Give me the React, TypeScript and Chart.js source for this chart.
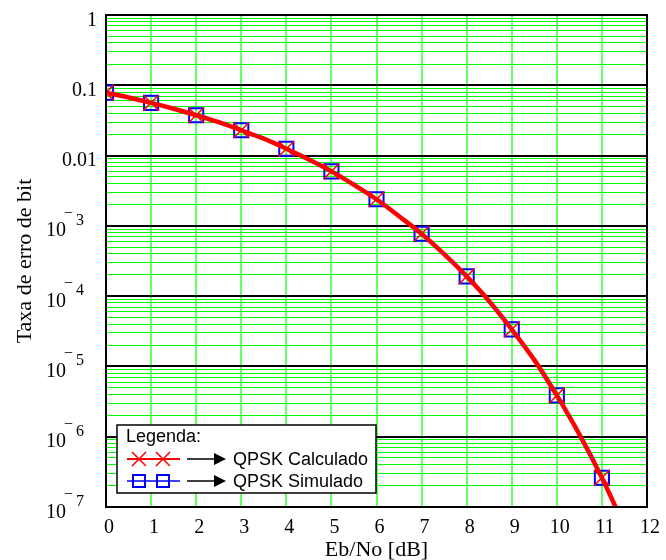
import { useEffect, useRef } from 'react';
import { Chart, registerables } from 'chart.js';

Chart.register(...registerables);

// ---- data ----
const EBNO_DB = [0, 1, 2, 3, 4, 5, 6, 7, 8, 9, 10, 11];
const BER_CALCULADO = [0.0786, 0.0563, 0.0375, 0.0229, 0.0125, 0.00596, 0.00239, 0.000773, 0.000191, 3.36e-5, 3.87e-6, 2.61e-7];
const BER_SIMULADO = [0.0786, 0.0563, 0.0375, 0.0229, 0.0125, 0.00596, 0.00239, 0.000773, 0.000191, 3.36e-5, 3.87e-6, 2.61e-7];
const CURVE_EBNO = [0, 0.5, 1, 1.5, 2, 2.5, 3, 3.5, 4, 4.5, 5, 5.5, 6, 6.5, 7, 7.5, 8, 8.5, 9, 9.5, 10, 10.5, 11, 11.5];
const CURVE_BER = [0.0786, 0.0671, 0.0563, 0.0464, 0.0375, 0.0298, 0.0229, 0.0174, 0.0125, 0.00877, 0.00596, 0.00384, 0.00239, 0.00137, 0.000773, 0.000395, 0.000191, 8.48e-5, 3.36e-5, 1.24e-5, 3.87e-6, 1.08e-6, 2.61e-7, 5.3e-8];

const X_MIN = 0;
const X_MAX = 12;
const Y_EXPONENTS = [-7, -6, -5, -4, -3, -2, -1];
const Y_MULTIPLIERS = [1, 2, 3, 4, 5, 6, 7, 8, 9];
const Y_LABEL_VALUES = [1, 0.1, 0.01, 1e-3, 1e-4, 1e-5, 1e-6, 1e-7];
const Y_LABEL_BASES = ['1', '0.1', '0.01', '10', '10', '10', '10', '10'];
const Y_LABEL_EXPS = ['', '', '', '3', '4', '5', '6', '7'];

const X_TITLE = 'Eb/No [dB]';
const Y_TITLE = 'Taxa de erro de bit';
const LEGEND_TITLE = 'Legenda:';
const LEGEND_LABELS = ['QPSK Calculado', 'QPSK Simulado'];

const RED = '#ff0000';
const BLUE = '#0000ff';
const SERIF = '"Liberation Serif", "Times New Roman", serif';
const SANS = '"Liberation Sans", Arial, sans-serif';

const isDecade = (v: number) => Math.abs(Math.log10(v) - Math.round(Math.log10(v))) < 1e-9;

const overlayPlugin = {
  id: 'overlay',
  afterDraw(chart: any) {
    const { ctx, chartArea } = chart;
    const yScale = chart.scales.y;
    const L = chartArea.left;
    ctx.save();
    // frame
    ctx.strokeStyle = '#000';
    ctx.lineWidth = 2;
    ctx.strokeRect(chartArea.left, chartArea.top, chartArea.right - chartArea.left, chartArea.bottom - chartArea.top);

    // y labels
    ctx.fillStyle = '#000';
    ctx.textBaseline = 'alphabetic';
    Y_LABEL_VALUES.forEach((v, i) => {
      const y = yScale.getPixelForValue(v);
      const exp = Y_LABEL_EXPS[i];
      ctx.font = `20px ${SERIF}`;
      if (!exp) {
        ctx.textAlign = 'right';
        ctx.fillText(Y_LABEL_BASES[i], L - 9, y + 10.5);
      } else {
        ctx.textAlign = 'left';
        ctx.fillText(Y_LABEL_BASES[i], L - 60, y + 10.5);
        ctx.font = `16px ${SERIF}`;
        ctx.fillText('\u2212', L - 42, y - 8);
        ctx.fillText(exp, L - 30, y - 1);
      }
    });

    // legend box
    const bx = L + 11;
    const bw = 259;
    const bh = 68;
    const by = chartArea.bottom - 14 - bh;
    ctx.fillStyle = '#fff';
    ctx.fillRect(bx, by, bw, bh);
    ctx.strokeStyle = '#000';
    ctx.lineWidth = 1.5;
    ctx.strokeRect(bx, by, bw, bh);

    ctx.fillStyle = '#000';
    ctx.textAlign = 'left';
    ctx.font = `18px ${SANS}`;
    ctx.fillText(LEGEND_TITLE, bx + 9, by + 17);

    const rows = [by + 34, by + 56];
    rows.forEach((ry, i) => {
      const x0 = bx + 10;
      const x1 = bx + 63;
      const m1 = bx + 22;
      const m2 = bx + 46;
      if (i === 0) {
        ctx.strokeStyle = RED;
        ctx.lineWidth = 2;
        ctx.beginPath();
        ctx.moveTo(x0, ry);
        ctx.lineTo(x1, ry);
        ctx.stroke();
        ctx.lineWidth = 1.5;
        [m1, m2].forEach((mx) => {
          ctx.beginPath();
          ctx.moveTo(mx - 7, ry - 7);
          ctx.lineTo(mx + 7, ry + 7);
          ctx.moveTo(mx - 7, ry + 7);
          ctx.lineTo(mx + 7, ry - 7);
          ctx.stroke();
        });
      } else {
        ctx.strokeStyle = BLUE;
        ctx.lineWidth = 1.5;
        ctx.beginPath();
        ctx.moveTo(x0, ry);
        ctx.lineTo(x1, ry);
        ctx.stroke();
        ctx.lineWidth = 2;
        [m1, m2].forEach((mx) => {
          ctx.strokeRect(mx - 6, ry - 6, 12, 12);
        });
      }
      // arrow
      ctx.strokeStyle = '#000';
      ctx.fillStyle = '#000';
      ctx.lineWidth = 1.5;
      ctx.beginPath();
      ctx.moveTo(bx + 70, ry);
      ctx.lineTo(bx + 98, ry);
      ctx.stroke();
      ctx.beginPath();
      ctx.moveTo(bx + 97, ry - 6);
      ctx.lineTo(bx + 109, ry);
      ctx.lineTo(bx + 97, ry + 6);
      ctx.closePath();
      ctx.fill();
      ctx.font = `18px ${SANS}`;
      ctx.fillText(LEGEND_LABELS[i], bx + 116, ry + 6);
    });
    ctx.restore();
  },
};

export default function App() {
  const canvasRef = useRef<HTMLCanvasElement | null>(null);

  useEffect(() => {
    const canvas = canvasRef.current;
    if (!canvas) return;

    const yTicks: number[] = [];
    Y_EXPONENTS.forEach((e) => {
      Y_MULTIPLIERS.forEach((m) => yTicks.push(m * Math.pow(10, e)));
    });
    yTicks.push(1);

    const chart = new Chart(canvas, {
      type: 'line',
      data: {
        datasets: [
          {
            label: 'curve',
            data: CURVE_EBNO.map((x, i) => ({ x, y: CURVE_BER[i] })),
            borderColor: RED,
            borderWidth: 4.5,
            pointRadius: 0,
            cubicInterpolationMode: 'monotone',
            fill: false,
            clip: 0,
            order: 1,
          },
          {
            label: LEGEND_LABELS[0],
            data: EBNO_DB.map((x, i) => ({ x, y: BER_CALCULADO[i] })),
            showLine: false,
            pointStyle: 'crossRot',
            pointRadius: 11,
            pointBorderColor: RED,
            pointBorderWidth: 1.5,
            pointBackgroundColor: 'transparent',
            clip: 0,
            order: 0,
          },
          {
            label: LEGEND_LABELS[1],
            data: EBNO_DB.map((x, i) => ({ x, y: BER_SIMULADO[i] })),
            showLine: false,
            pointStyle: 'rect',
            pointRadius: 10,
            pointBorderColor: BLUE,
            pointBorderWidth: 2,
            pointBackgroundColor: 'transparent',
            clip: 0,
            order: 2,
          },
        ],
      } as any,
      options: {
        responsive: false,
        animation: false,
        devicePixelRatio: 1,
        layout: { padding: { top: 15, right: 16, left: 0, bottom: 0 } },
        plugins: {
          legend: { display: false },
          tooltip: { enabled: false },
        },
        scales: {
          x: {
            type: 'linear',
            min: X_MIN,
            max: X_MAX,
            afterFit: (s: any) => {
              s.height = 53;
            },
            ticks: {
              stepSize: 1,
              autoSkip: false,
              maxRotation: 0,
              color: '#000',
              padding: 9,
              labelOffset: 3,
              font: { family: SERIF, size: 20 },
            },
            grid: {
              color: 'rgba(0,255,0,0.6)',
              lineWidth: 2,
              drawTicks: false,
            },
            border: { display: false },
            title: {
              display: true,
              text: X_TITLE,
              color: '#000',
              font: { family: SERIF, size: 22, lineHeight: 0.85 },
              padding: 0,
            },
          },
          y: {
            type: 'logarithmic',
            min: 1e-7,
            max: 1,
            afterBuildTicks: (s: any) => {
              s.ticks = yTicks.map((value) => ({ value }));
            },
            afterFit: (s: any) => {
              s.width = 106;
            },
            ticks: { display: false },
            grid: {
              color: (c: any) => (isDecade(c.tick.value) ? '#000' : '#00ff00'),
              lineWidth: (c: any) => (isDecade(c.tick.value) ? 2 : 1),
              drawTicks: false,
            },
            border: { display: false },
            title: {
              display: true,
              text: Y_TITLE,
              color: '#000',
              font: { family: SERIF, size: 22, lineHeight: 1.2 },
              padding: { top: 12, bottom: 0 },
            },
          },
        },
      } as any,
      plugins: [overlayPlugin],
    });

    return () => chart.destroy();
  }, []);

  return (
    <div style={{ position: 'absolute', left: 0, top: 0, width: 666, height: 560, background: '#fff' }}>
      <canvas ref={canvasRef} width={666} height={560} style={{ display: 'block', width: 666, height: 560 }} />
    </div>
  );
}
